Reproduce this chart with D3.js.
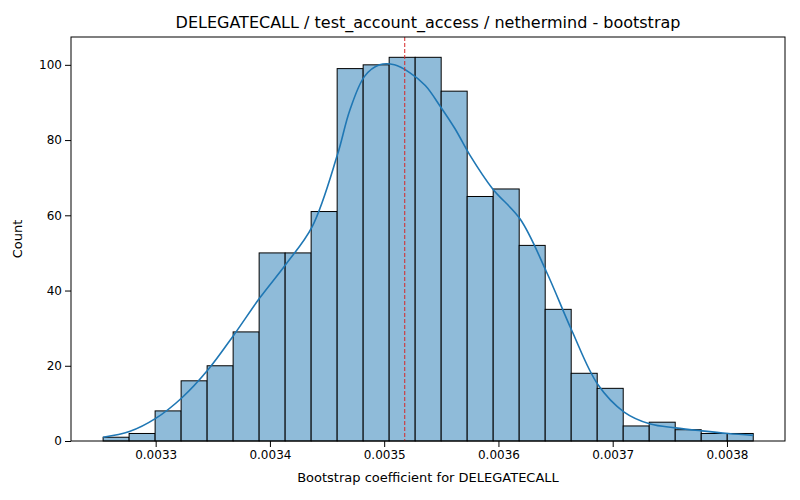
<!DOCTYPE html>
<html>
<head>
<script src="https://d3js.org/d3.v7.min.js"></script>
<style>
  body { margin: 0; background: #fff; font-family: "DejaVu Sans", sans-serif; }
</style>
</head>
<body>
<div id="chart"></div>
<script>
const binStart = 0.003254;
const binWidth = 0.00002276;
const counts = [1, 2, 8, 16, 20, 29, 50, 50, 61, 99, 100, 102, 102, 93, 65, 67, 52, 35, 18, 14, 4, 5, 3, 2, 2];
const kdeX = [0.003254, 0.003277, 0.0033, 0.003323, 0.003346, 0.003368, 0.003391, 0.003414, 0.003437, 0.003459,
  0.003470, 0.003483, 0.003496, 0.003509, 0.003522, 0.003536, 0.003549, 0.003562, 0.003575, 0.003595,
  0.003619, 0.003642, 0.003664, 0.003687, 0.003710, 0.003733, 0.003755, 0.003778, 0.003801, 0.003823];
const kdeY = [1, 2.5, 6, 11.5, 19, 28, 38, 47, 57, 76,
  88, 97, 100, 100, 98, 94.5, 89, 83, 76, 67,
  59, 45, 29.5, 15, 7.7, 4.5, 3.5, 2.7, 2, 1.5];
const meanValue = 0.003518;
const xTicks = [0.0033, 0.0034, 0.0035, 0.0036, 0.0037, 0.0038];
const yTicks = [0, 20, 40, 60, 80, 100];

const margin = { top: 37, right: 15, bottom: 59, left: 71 };
const width = 800 - margin.left - margin.right;
const height = 500 - margin.top - margin.bottom;

const svg = d3.select("#chart").append("svg")
    .attr("width", 800).attr("height", 500)
    .append("g")
    .attr("transform", `translate(${margin.left},${margin.top})`);

const x = d3.scaleLinear()
    .domain([0.0032259, 0.0038508])
    .range([0, width]);
const y = d3.scaleLinear()
    .domain([0, 107.4])
    .range([height, 0]);

svg.selectAll(".bar")
    .data(counts)
    .enter().append("rect")
    .attr("x", (d, i) => x(binStart + i * binWidth))
    .attr("y", d => y(d))
    .attr("width", x(binStart + binWidth) - x(binStart))
    .attr("height", d => height - y(d))
    .attr("fill", "#8fbbd9")
    .attr("stroke", "#000")
    .attr("stroke-width", 1);

svg.append("path")
    .datum(kdeX.map((v, i) => [v, kdeY[i]]))
    .attr("fill", "none")
    .attr("stroke", "#1f77b4")
    .attr("stroke-width", 1.6)
    .attr("d", d3.line().x(d => x(d[0])).y(d => y(d[1])).curve(d3.curveCatmullRom));

svg.append("line")
    .attr("x1", x(meanValue)).attr("x2", x(meanValue))
    .attr("y1", 0).attr("y2", height)
    .attr("stroke", "#d62728")
    .attr("stroke-width", 1)
    .attr("stroke-dasharray", "4,2");

const xAxis = svg.append("g")
    .attr("transform", `translate(0,${height})`)
    .call(d3.axisBottom(x).tickValues(xTicks).tickFormat(d3.format(".4f")).tickSizeOuter(0));
const yAxis = svg.append("g")
    .call(d3.axisLeft(y).tickValues(yTicks).tickSizeOuter(0));

[xAxis, yAxis].forEach(a => {
  a.selectAll("text").attr("font-size", 12).attr("font-family", "DejaVu Sans").attr("fill", "#000");
  a.selectAll("line").attr("stroke", "#000");
  a.select(".domain").remove();
});

svg.append("rect")
    .attr("width", width).attr("height", height)
    .attr("fill", "none").attr("stroke", "#000").attr("stroke-width", 1);

svg.append("text")
    .attr("x", width / 2).attr("y", -9)
    .attr("text-anchor", "middle")
    .attr("font-size", 16)
    .text("DELEGATECALL / test_account_access / nethermind - bootstrap");

svg.append("text")
    .attr("x", width / 2).attr("y", height + 41)
    .attr("text-anchor", "middle")
    .attr("font-size", 13)
    .text("Bootstrap coefficient for DELEGATECALL");

svg.append("text")
    .attr("transform", `translate(${-49},${height / 2}) rotate(-90)`)
    .attr("text-anchor", "middle")
    .attr("font-size", 13)
    .text("Count");
</script>
</body>
</html>
